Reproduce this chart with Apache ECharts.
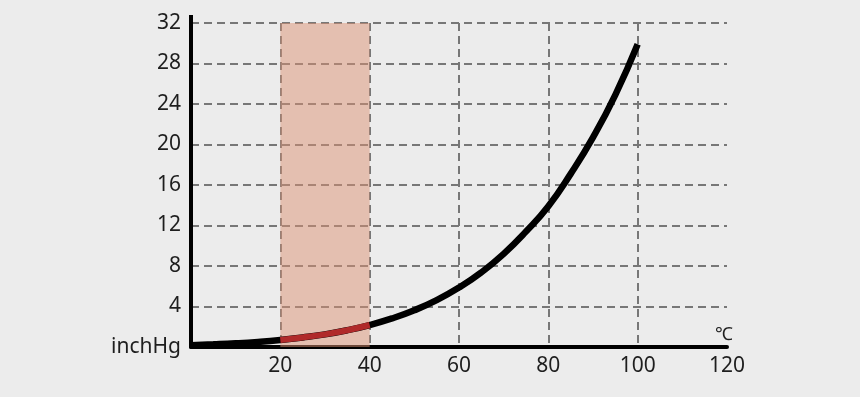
<!DOCTYPE html>
<html>
<head>
<meta charset="utf-8">
<script src="https://cdn.jsdelivr.net/npm/echarts@6/dist/echarts.min.js"></script>
<style>
  html, body { margin: 0; padding: 0; background: #ececec; }
  #chart { width: 860px; height: 397px; }
</style>
</head>
<body>
<div id="chart"></div>
<script>
// temperature (°C) and vapour pressure (inchHg)
const temps = [0, 5, 10, 15, 20, 25, 30, 35, 40, 45, 50, 55, 60, 65, 70, 75, 80, 85, 90, 95, 100];
const pressure = [0.18, 0.26, 0.36, 0.50, 0.69, 0.94, 1.25, 1.66, 2.17, 2.82, 3.63, 4.63, 5.87, 7.37, 9.2, 11.4, 13.9, 17.1, 20.7, 24.9, 29.9];
// highlighted range
const bandFrom = 20;
const bandTo = 40;
const bandTop = 32;

const fullData = temps.map((t, i) => [t, pressure[i]]);
const bandData = fullData.filter((d) => d[0] >= bandFrom && d[0] <= bandTo);

const chart = echarts.init(document.getElementById('chart'));

const labelFont = { color: '#1e1e1e', fontSize: 21, fontFamily: 'Noto Sans' };
const gridDash = { color: '#777', width: 2, type: [8, 5] };

const option = {
  backgroundColor: '#ececec',
  animation: false,
  grid: { left: 191, right: 133, top: 23, bottom: 50 },
  xAxis: {
    type: 'value',
    min: 0,
    max: 120,
    interval: 20,
    name: '℃',
    nameLocation: 'end',
    nameGap: -12,
    nameTextStyle: { color: '#1e1e1e', fontSize: 18, fontFamily: 'Noto Sans', verticalAlign: 'bottom', padding: [0, 0, 3, 0] },
    axisLine: { lineStyle: { color: '#000', width: 4 } },
    axisTick: { show: false },
    axisLabel: Object.assign({ margin: 9, formatter: (v) => (v === 0 ? '' : v) }, labelFont),
    splitLine: {
      show: true,
      showMaxLine: false,
      lineStyle: gridDash
    }
  },
  yAxis: {
    type: 'value',
    min: 0,
    max: 32,
    interval: 4,
    axisLine: {
      show: true,
      symbol: ['none', 'rect'],
      symbolSize: [4, 8],
      symbolOffset: [0, 4],
      lineStyle: { color: '#000', width: 4 }
    },
    axisTick: { show: false },
    axisLabel: Object.assign({ margin: 10, formatter: (v) => (v === 0 ? 'inchHg' : v) }, labelFont),
    splitLine: { show: true, lineStyle: gridDash }
  },
  series: [
    {
      name: 'band',
      type: 'line',
      symbol: 'none',
      silent: true,
      data: [[bandFrom, bandTop], [bandTo, bandTop]],
      lineStyle: { width: 0 },
      areaStyle: { color: 'rgba(220,146,116,0.5)', opacity: 1 }
    },
    {
      name: 'pressure',
      type: 'line',
      z: 3,
      smooth: true,
      symbol: 'none',
      data: fullData,
      lineStyle: { color: '#000', width: 6.5, cap: 'butt' }
    },
    {
      name: 'range',
      type: 'line',
      z: 4,
      smooth: true,
      symbol: 'none',
      data: bandData,
      lineStyle: { color: '#b02a2a', width: 6, cap: 'butt' }
    }
  ]
};

chart.setOption(option);
</script>
</body>
</html>
